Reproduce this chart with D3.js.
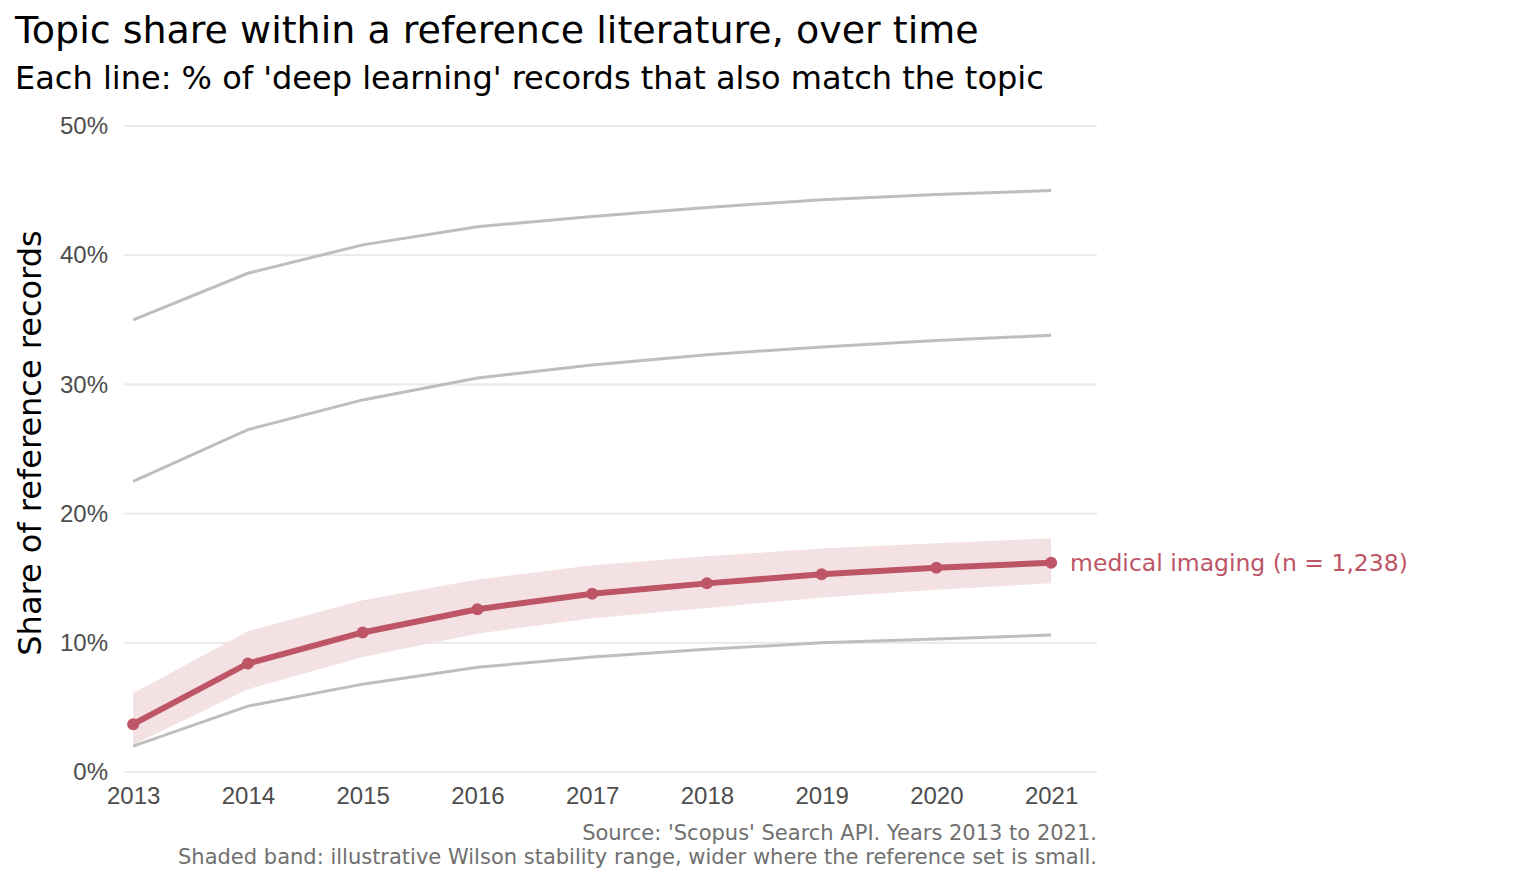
<!DOCTYPE html>
<html>
<head>
<meta charset="utf-8">
<script src="https://cdn.jsdelivr.net/npm/d3@7"></script>
<style>
  body { margin: 0; background: #fff; }
  svg { font-family: "DejaVu Sans", sans-serif; display: block; }
</style>
</head>
<body>
<svg id="chart" width="1536" height="883"></svg>
<script>
// data (percent)
const years = [2013, 2014, 2015, 2016, 2017, 2018, 2019, 2020, 2021];
const topicA = [35.0, 38.6, 40.8, 42.2, 43.0, 43.7, 44.3, 44.7, 45.0];
const topicB = [22.5, 26.5, 28.8, 30.5, 31.5, 32.3, 32.9, 33.4, 33.8];
const topicC = [2.0, 5.1, 6.8, 8.1, 8.9, 9.5, 10.0, 10.3, 10.6];
const imaging = [3.7, 8.4, 10.8, 12.6, 13.8, 14.6, 15.3, 15.8, 16.2];
const bandLow = [2.1, 6.4, 8.9, 10.7, 11.9, 12.7, 13.5, 14.1, 14.6];
const bandHigh = [6.1, 10.9, 13.3, 14.9, 16.0, 16.7, 17.3, 17.7, 18.1];
const yTicks = [0, 10, 20, 30, 40, 50];
const highlightLabel = "medical imaging (n = 1,238)";

const red = "#bd5566";

let margin = {top: 126, right: 439, bottom: 111, left: 124};
let width = 1536 - margin.left - margin.right,
    height = 883 - margin.top - margin.bottom;

let svg = d3.select("#chart");
let g = svg.append("g")
  .attr("transform", "translate(" + margin.left + "," + margin.top + ")");

let x = d3.scaleLinear()
  .domain([2012.92, 2021.4])
  .range([0, width]);
let y = d3.scaleLinear()
  .domain([0, 50])
  .range([height, 0]);

// gridlines
g.selectAll(".grid")
  .data(yTicks)
  .enter().append("line")
  .attr("x1", 0).attr("x2", width)
  .attr("y1", d => y(d)).attr("y2", d => y(d))
  .attr("stroke", "#ebebeb")
  .attr("stroke-width", 2.2);

// axes
let yAxis = g.append("g")
  .call(d3.axisLeft(y).tickValues(yTicks).tickFormat(d => d + "%").tickSize(0).tickPadding(16));
let xAxis = g.append("g")
  .attr("transform", "translate(0," + height + ")")
  .call(d3.axisBottom(x).tickValues(years).tickFormat(d3.format("d")).tickSize(0).tickPadding(15));
[yAxis, xAxis].forEach(a => {
  a.select(".domain").remove();
  a.selectAll("text").attr("fill", "#4d4d4d").style("font-size", "24px");
});

// band
let area = d3.area()
  .x((d, i) => x(years[i]))
  .y0((d, i) => y(bandLow[i]))
  .y1((d, i) => y(bandHigh[i]));
g.append("path")
  .datum(bandLow)
  .attr("d", area)
  .attr("fill", "#f3e1e4");

let line = d3.line()
  .x((d, i) => x(years[i]))
  .y(d => y(d));

[topicA, topicB, topicC].forEach(s => {
  g.append("path")
    .datum(s)
    .attr("d", line)
    .attr("fill", "none")
    .attr("stroke", "#bebebe")
    .attr("stroke-width", 3);
});

g.append("path")
  .datum(imaging)
  .attr("d", line)
  .attr("fill", "none")
  .attr("stroke", red)
  .attr("stroke-width", 6);

g.selectAll(".pt")
  .data(imaging)
  .enter().append("circle")
  .attr("cx", (d, i) => x(years[i]))
  .attr("cy", d => y(d))
  .attr("r", 6)
  .attr("fill", red);

g.append("text")
  .attr("x", x(years[years.length - 1]) + 19)
  .attr("y", y(imaging[imaging.length - 1]))
  .attr("dy", "0.35em")
  .attr("fill", red)
  .style("font-size", "23.5px")
  .text(highlightLabel);

// y title
svg.append("text")
  .attr("transform", "translate(41," + (margin.top + height / 2 - 6) + ") rotate(-90)")
  .attr("text-anchor", "middle")
  .style("font-size", "32px")
  .text("Share of reference records");

// titles
svg.append("text")
  .attr("x", 15).attr("y", 43)
  .style("font-size", "38px")
  .text("Topic share within a reference literature, over time");
svg.append("text")
  .attr("x", 15).attr("y", 89)
  .style("font-size", "32px")
  .text("Each line: % of 'deep learning' records that also match the topic");

// caption
svg.append("text")
  .attr("x", margin.left + width).attr("y", 840)
  .attr("text-anchor", "end")
  .attr("fill", "#707070")
  .style("font-size", "21px")
  .text("Source: 'Scopus' Search API. Years 2013 to 2021.");
svg.append("text")
  .attr("x", margin.left + width).attr("y", 864)
  .attr("text-anchor", "end")
  .attr("fill", "#707070")
  .style("font-size", "21px")
  .text("Shaded band: illustrative Wilson stability range, wider where the reference set is small.");
</script>
</body>
</html>
